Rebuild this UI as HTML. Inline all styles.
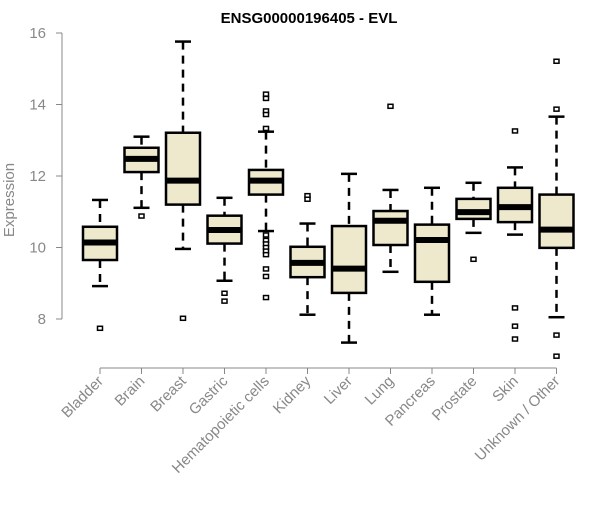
<!DOCTYPE html>
<html><head><meta charset="utf-8"><style>
body{margin:0;background:#fff}
svg text{font-family:"Liberation Sans",Arial,sans-serif}
</style></head><body>
<svg id="chart" width="600" height="500" xmlns="http://www.w3.org/2000/svg">
<text x="309" y="23" text-anchor="middle" font-size="15" font-weight="bold">ENSG00000196405 - EVL</text>
<text transform="translate(14,200) rotate(-90)" text-anchor="middle" font-size="15" fill="#888">Expression</text>
<g id="axes"></g><g id="boxes"></g>
</svg>
<script>
const categories=["Bladder","Brain","Breast","Gastric","Hematopoietic cells","Kidney","Liver","Lung","Pancreas","Prostate","Skin","Unknown / Other"];
const whiskerLow=[8.92,11.11,9.96,9.07,10.46,8.12,7.34,9.32,8.12,10.41,10.36,8.05];
const q1=[9.65,12.11,11.20,10.11,11.48,9.17,8.73,10.07,9.04,10.80,10.71,9.99];
const medians=[10.14,12.48,11.87,10.49,11.87,9.57,9.41,10.75,10.21,10.99,11.13,10.50];
const q3=[10.58,12.79,13.21,10.89,12.17,10.02,10.60,11.02,10.64,11.36,11.67,11.48];
const whiskerHigh=[11.33,13.10,15.76,11.39,13.24,10.67,12.06,11.61,11.67,11.81,12.24,13.66];
const outliers=[[7.74],[10.88],[8.02],[8.72,8.50],[14.29,14.17,13.82,13.72,13.33,10.35,10.2,10.1,10.0,9.9,9.8,9.40,9.19,8.60],[11.45,11.35],[],[13.95],[],[9.67],[13.26,8.31,7.80,7.44],[15.21,13.87,7.55,6.96]];
const yTicks=[8,10,12,14,16];
const NS="http://www.w3.org/2000/svg";
const y=v=>33+(16-v)*35.75;
const x=i=>100+i*41.5;
function mk(parent,tag,attrs){const e=document.createElementNS(NS,tag);for(const k in attrs)e.setAttribute(k,attrs[k]);parent.appendChild(e);return e;}
const ax=document.getElementById('axes'),bx=document.getElementById('boxes');
let l=mk(ax,'line',{x1:62,x2:62,y1:y(16),y2:y(8),stroke:'#888'});


yTicks.forEach(t=>{
 const tk=mk(ax,'line',{x1:56,x2:62,y1:y(t),y2:y(t),stroke:'#888'});
 
 
 const tx=mk(ax,'text',{x:46,y:y(t)+5,'text-anchor':'end','font-size':15,fill:'#888'});tx.textContent=t;
 
 
});
l=mk(ax,'line',{x1:x(0),x2:x(11),y1:368,y2:368,stroke:'#888'});


categories.forEach((c,i)=>{
 const tk=mk(ax,'line',{x1:x(i),x2:x(i),y1:368,y2:374,stroke:'#888'});
 
 
 const tx=mk(ax,'text',{transform:`translate(${x(i)+4},${382}) rotate(-45)`,'text-anchor':'end','font-size':15,fill:'#888'});tx.textContent=c;
 
 
 const g=mk(bx,'g',{});
 
 
 const cx=x(i),hw=17;
 mk(g,'line',{x1:cx,x2:cx,y1:y(whiskerHigh[i]),y2:y(q3[i]),stroke:'#000','stroke-width':2.5,'stroke-dasharray':'8,6'});
 mk(g,'line',{x1:cx,x2:cx,y1:y(q1[i]),y2:y(whiskerLow[i]),stroke:'#000','stroke-width':2.5,'stroke-dasharray':'8,6'});
 mk(g,'line',{x1:cx-8,x2:cx+8,y1:y(whiskerHigh[i]),y2:y(whiskerHigh[i]),stroke:'#000','stroke-width':2.5});
 mk(g,'line',{x1:cx-8,x2:cx+8,y1:y(whiskerLow[i]),y2:y(whiskerLow[i]),stroke:'#000','stroke-width':2.5});
 mk(g,'rect',{x:cx-hw,y:y(q3[i]),width:hw*2,height:y(q1[i])-y(q3[i]),fill:'#EEE8CD',stroke:'#000','stroke-width':2.5});
 mk(g,'line',{x1:cx-hw,x2:cx+hw,y1:y(medians[i]),y2:y(medians[i]),stroke:'#000','stroke-width':6});
 outliers[i].forEach(v=>{mk(g,'rect',{x:cx-2.5,y:y(v)-2,width:5,height:4,fill:'#fff',stroke:'#000','stroke-width':1.5});});
});
</script>
</body></html>
